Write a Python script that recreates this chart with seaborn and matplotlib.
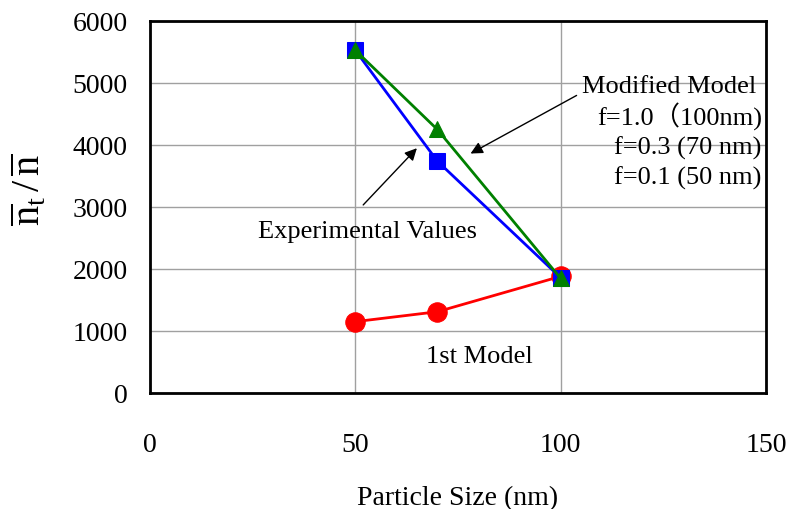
import matplotlib
matplotlib.use("Agg")
import matplotlib.pyplot as plt
import seaborn as sns
import pandas as pd

sizes = [50, 70, 100]
first_model = [1150, 1310, 1880]
experimental = [5530, 3740, 1860]
modified_model = [5530, 4250, 1850]

sns.set_theme(style="white")
plt.rcParams['font.family'] = ['Liberation Serif', 'DejaVu Serif']
plt.rcParams['mathtext.fontset'] = 'custom'
plt.rcParams['mathtext.rm'] = 'Liberation Serif'
plt.rcParams['mathtext.it'] = 'Liberation Serif'

fig = plt.figure(figsize=(7.88, 5.10), dpi=100)
ax = fig.add_axes([0.190, 0.2275, 0.782, 0.7295])

df1 = pd.DataFrame({"x": sizes, "y": first_model})
df2 = pd.DataFrame({"x": sizes, "y": experimental})
df3 = pd.DataFrame({"x": sizes, "y": modified_model})

sns.lineplot(data=df1, x="x", y="y", ax=ax, color="#ff0000", marker="o",
             markersize=14, markeredgecolor="#ff0000", linewidth=2, zorder=3)
sns.lineplot(data=df2, x="x", y="y", ax=ax, color="#0000ff", marker="s",
             markersize=11, markeredgecolor="#0000ff", linewidth=2, zorder=4)
sns.lineplot(data=df3, x="x", y="y", ax=ax, color="#008000", marker="^",
             markersize=11, markeredgecolor="#008000", linewidth=2, zorder=5)

ax.set_xlim(0, 150)
ax.set_ylim(0, 6000)
ax.set_xticks([0, 50, 100, 150])
ax.set_yticks(range(0, 6001, 1000))
ax.grid(True, color="#a0a0a0", linewidth=1)
ax.set_axisbelow(True)
for s in ax.spines.values():
    s.set_color("black")
    s.set_linewidth(2)
ax.tick_params(axis='both', labelsize=20, length=0, colors="black")
ax.tick_params(axis='x', pad=28)
ax.tick_params(axis='y', pad=16)

ax.set_xlabel("Particle Size (nm)", fontsize=20, labelpad=20, color="black")
ax.set_ylabel(r'$\overline{\mathrm{n}}_{\mathrm{t}}\,/\,\overline{\mathrm{n}}$',
              fontsize=29, color="black")
ax.yaxis.set_label_coords(-0.163, 0.55)

ax.annotate("", xy=(77.5, 3840), xytext=(104.5, 4820),
            arrowprops=dict(arrowstyle="-|>", color="black", lw=1,
                            mutation_scale=18))
ax.annotate("", xy=(65.5, 3980), xytext=(51.5, 3000),
            arrowprops=dict(arrowstyle="-|>", color="black", lw=1,
                            mutation_scale=18))

ax.text(105.2, 4950, "Modified Model", fontsize=19, ha="left", va="center", color="black")
ax.text(149, 4470, "f=1.0\uff08100nm)", fontsize=19, ha="right", va="center",
        color="black", family=['Liberation Serif', 'Noto Sans CJK JP'])
ax.text(113, 3970, "f=0.3 (70 nm)", fontsize=19, ha="left", va="center", color="black")
ax.text(113, 3480, "f=0.1 (50 nm)", fontsize=19, ha="left", va="center", color="black")
ax.text(26.3, 2610, "Experimental Values", fontsize=19, ha="left", va="center", color="black")
ax.text(67.2, 600, "1st Model", fontsize=19, ha="left", va="center", color="black")

fig.savefig("out.png", dpi=100)
